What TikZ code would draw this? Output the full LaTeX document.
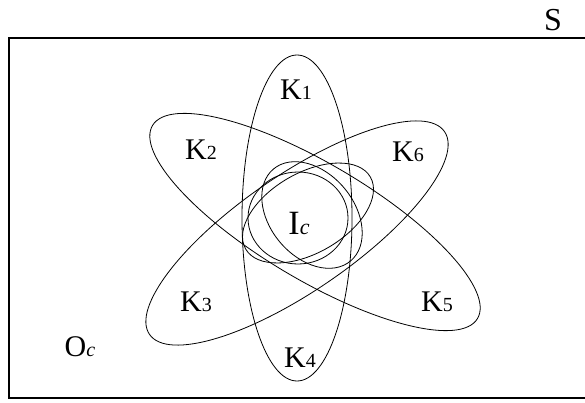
\documentclass[tikz,border=0pt]{standalone}
\usepackage{fontspec}
\setmainfont{Liberation Serif}
\usepackage{tikz}
\newcommand{\kset}[1]{K{\fontsize{20}{20}\selectfont #1}}

\begin{document}
\begin{tikzpicture}[x=1pt,y=1pt,
    set/.style={draw, line width=0.8pt},
    lbl/.style={font=\fontsize{30}{30}\selectfont, inner sep=0pt}]
\useasboundingbox (0,0) rectangle (585,402);
\draw[line width=1.2pt] (585,364) -- (9,364) -- (9,4) -- (585,4);
\node[lbl, font=\fontsize{32}{32}\selectfont] (s) at (553,382) {S};
\draw[set] (297,184) ellipse [x radius=55pt, y radius=163pt];
\draw[set, rotate around={-30.7:(315,180)}] (315,180) ellipse [x radius=189pt, y radius=58pt];
\draw[set, rotate around={34.5:(297,169)}] (297,169) ellipse [x radius=179pt, y radius=58pt];
\draw[set, rotate around={30:(308,189)}] (308,189) ellipse [x radius=72pt, y radius=40pt];
\draw[set, rotate around={-50:(312,187)}] (312,187) ellipse [x radius=60pt, y radius=42pt];
\draw[set] (298,184) ellipse [x radius=50pt, y radius=46pt];
\node[lbl] (k1) at (296,312) {\kset{1}};
\node[lbl] (k2) at (201,252) {\kset{2}};
\node[lbl] (k3) at (196,100) {\kset{3}};
\node[lbl] (k4) at (300,44) {\kset{4}};
\node[lbl] (k5) at (437,100) {\kset{5}};
\node[lbl] (k6) at (408,250) {\kset{6}};
\node[lbl] (ic) at (299,179) {\fontsize{34}{34}\selectfont I{\fontsize{22}{22}\selectfont\itshape c}};
\node[lbl] (oc) at (80,55) {O{\fontsize{20}{20}\selectfont\itshape c}};
\end{tikzpicture}
\end{document}
